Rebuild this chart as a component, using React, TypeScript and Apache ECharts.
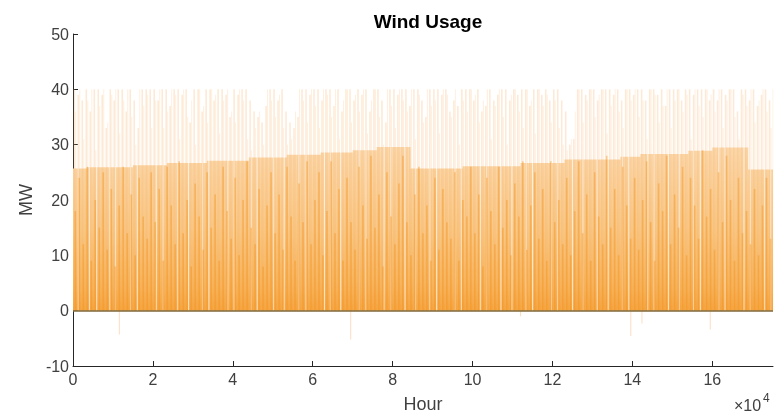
import React, { useEffect, useRef } from "react";
import * as echarts from "echarts";

// Envelope of the light band (MW) – start hour of each step and its level
const bandStarts = [0, 3500, 15000, 23500, 33500, 44000, 53500, 62000, 70000, 76000, 84500, 97500, 112000, 123000, 137000, 142000, 154000, 160000, 169000];
const bandLevels = [25.7, 25.9, 26.3, 26.7, 27.1, 27.7, 28.2, 28.6, 29.0, 29.6, 25.7, 26.1, 26.7, 27.3, 27.8, 28.3, 28.9, 29.5, 25.5];
const lastHour = 175200;

// Peak gusts per 1000-hour block (MW)
const peakMW = [
  40, 39, 38, 40, 36, 40, 40, 39, 33, 40, 38, 40, 40, 36, 40, 38, 33, 40, 40, 40,
  40, 38, 40, 40, 37, 40, 40, 39, 40, 34, 40, 40, 36, 40, 40, 38, 40, 40, 39, 35,
  40, 39, 40, 40, 38, 36, 35, 34, 37, 40, 40, 38, 40, 36, 34, 33, 35, 40, 40, 39,
  40, 40, 38, 40, 40, 37, 40, 36, 40, 40, 38, 40, 39, 40, 36, 40, 40, 38, 34, 40,
  40, 39, 40, 40, 37, 40, 40, 38, 35, 40, 40, 40, 39, 40, 36, 38, 37, 40, 40, 40,
  38, 40, 36, 37, 40, 38, 39, 40, 40, 38, 40, 39, 40, 40, 37, 40, 40, 39, 40, 38,
  40, 40, 38, 36, 30, 31, 40, 40, 39, 40, 40, 38, 40, 40, 40, 39, 40, 38, 40, 40,
  39, 40, 40, 38, 40, 40, 39, 40, 37, 40, 40, 40, 38, 40, 40, 39, 40, 40, 40, 38,
  40, 38, 40, 39, 40, 40, 36, 40, 40, 38, 40, 37, 39, 40, 38, 40,
];

// Secondary gusts per 1000-hour block, offset by half a block (MW)
const gustMW = [
  36, 40, 31, 38, 40, 29, 37, 40, 34, 39, 40, 32, 38, 40, 35, 30, 40, 37, 39, 33,
  38, 40, 33, 36, 40, 39, 31, 40, 35, 38, 30, 40, 37, 34, 40, 39, 32, 38, 40, 36,
  34, 40, 38, 31, 29, 33, 36, 30, 40, 38, 35, 39, 33, 30, 31, 36, 40, 38, 34, 40,
  37, 33, 40, 39, 35, 40, 31, 38, 40, 34, 39, 36, 40, 32, 38, 40, 35, 30, 40, 37,
  33, 40, 38, 36, 40, 31, 39, 34, 40, 37, 38, 32, 40, 39, 35, 40, 30, 38, 36, 40,
  39, 34, 38, 40, 31, 37, 40, 35, 30, 39, 40, 36, 33, 40, 38, 32, 40, 37, 39, 34,
  38, 33, 30, 29, 31, 36, 40, 34, 38, 40, 35, 39, 40, 32, 37, 40, 36, 33, 40, 38,
  40, 35, 38, 31, 40, 39, 34, 37, 40, 33, 38, 40, 36, 39, 31, 40, 37, 35, 40, 39,
  36, 40, 33, 38, 40, 35, 31, 39, 37, 40, 34, 38, 40, 36, 33, 39,
];

// Typical output per 1000-hour block (MW)
const typicalMW = [
  18, 24, 12, 26, 9, 20, 15, 25, 11, 22, 8, 19, 26, 14, 21, 10, 24, 17, 13, 25,
  16, 22, 9, 26, 19, 12, 27, 14, 20, 8, 23, 17, 11, 25, 15, 21, 9, 26, 18, 13,
  24, 10, 20, 27, 15, 12, 22, 8, 19, 25, 14, 21, 11, 26, 17, 9, 23, 16, 27, 12,
  20, 25, 10, 18, 27, 14, 22, 9, 24, 16, 11, 26, 19, 13, 28, 15, 21, 8, 25, 17,
  12, 23, 28, 16, 10, 21, 26, 14, 19, 9, 24, 11, 22, 16, 13, 25, 9, 20, 17, 26,
  14, 21, 8, 24, 18, 12, 26, 15, 20, 10, 23, 17, 27, 11, 19, 25, 13, 22, 9, 27,
  16, 20, 12, 24, 10, 18, 27, 14, 21, 9, 25, 17, 12, 28, 15, 22, 10, 26, 19, 13,
  24, 11, 20, 27, 16, 9, 23, 18, 28, 12, 21, 15, 26, 10, 24, 19, 13, 29, 17, 22,
  11, 25, 16, 28, 20, 9, 24, 14, 18, 12, 22, 10, 19, 24, 13, 20,
];

// Calm stretches (hour) where output stayed near zero
const calmHours = [
  1300, 4100, 5900, 9200, 10600, 14400, 16100, 20800, 22500, 26200, 28900, 32400,
  34000, 38700, 40300, 44600, 46100, 50200, 52800, 56500, 58300, 62900, 64400, 67000,
  71600, 73300, 77800, 79500, 83100, 85700, 89300, 91000, 95600, 97200, 101900, 103500,
  107100, 109800, 113400, 115000, 119700, 121300, 125000, 127600, 131200, 133900, 137500, 139100,
  143800, 145400, 149000, 151700, 155300, 157000, 161600, 163200, 167900, 169500, 173100, 174600,
];

// Occasional negative readings
const dipHours = [11600, 69500, 112000, 139600, 142400, 159500];
const dipMW = [-4.3, -5.2, -1.0, -4.6, -2.3, -3.4];

const xTickLabels = ["0", "2", "4", "6", "8", "10", "12", "14", "16"];

export default function App() {
  const ref = useRef<HTMLDivElement>(null);

  useEffect(() => {
    if (!ref.current) return;
    const chart = echarts.init(ref.current, undefined, { renderer: "svg" });

    const bandData: [number, number][] = bandStarts.map((h, i) => [h, bandLevels[i]]);
    bandData.push([lastHour, bandLevels[bandLevels.length - 1]]);
    const peakData = peakMW.map((v, i) => [i * 1000 + 250, v]);
    const gustData = gustMW.map((v, i) => [i * 1000 + 700, v]);
    const typicalData = typicalMW.map((v, i) => [i * 1000 + 500, v]);
    const calmData = calmHours.map((h) => [h, 31]);
    const dipData = dipHours.map((h, i) => [h, dipMW[i]]);

    const font = "Liberation Sans, Arial, Helvetica, sans-serif";
    const axisColor = "#262626";
    const labelColor = "#404040";

    chart.setOption({
      animation: false,
      title: {
        text: "Wind Usage",
        left: 423,
        textAlign: "center",
        top: 7,
        textStyle: { fontFamily: font, fontWeight: "bold", fontSize: 19, color: "#000" },
      },
      grid: { left: 73, right: 2, top: 34, bottom: 47, outerBoundsMode: "none", containLabel: false },
      xAxis: {
        type: "value",
        min: 0,
        max: lastHour,
        interval: 20000,
        name: "Hour",
        nameLocation: "middle",
        nameGap: 29,
        nameTextStyle: { fontFamily: font, fontSize: 18, color: labelColor },
        axisLine: { onZero: false, lineStyle: { color: axisColor, width: 1 } },
        axisTick: { inside: true, length: 5, lineStyle: { color: axisColor } },
        axisLabel: {
          fontFamily: font,
          fontSize: 16,
          color: labelColor,
          margin: 5,
          showMaxLabel: false,
          formatter: (v: number) => {
            const k = Math.round(v / 20000);
            return Math.abs(v - k * 20000) < 1 && xTickLabels[k] !== undefined ? xTickLabels[k] : "";
          },
        },
        splitLine: { show: false },
      },
      yAxis: {
        type: "value",
        min: -10,
        max: 50,
        interval: 10,
        name: "MW",
        nameLocation: "middle",
        nameGap: 35,
        nameTextStyle: { fontFamily: font, fontSize: 18, color: labelColor },
        axisLine: { show: true, lineStyle: { color: axisColor, width: 1 } },
        axisTick: { show: true, inside: true, length: 5, lineStyle: { color: axisColor } },
        axisLabel: { fontFamily: font, fontSize: 16, color: labelColor, margin: 4 },
        splitLine: { show: false },
      },
      graphic: [
        {
          type: "text",
          x: 734,
          y: 397,
          style: { text: "×10", font: `16px ${font}`, fill: labelColor, align: "left", verticalAlign: "top" },
        },
        {
          type: "text",
          x: 763,
          y: 392,
          style: { text: "4", font: `12px ${font}`, fill: labelColor, align: "left", verticalAlign: "top" },
        },
      ],
      series: [
        {
          name: "band",
          type: "line",
          step: "end",
          data: bandData,
          symbol: "none",
          silent: true,
          z: 1,
          lineStyle: { width: 0, opacity: 0 },
          areaStyle: {
            opacity: 1,
            color: new echarts.graphic.LinearGradient(0, 0, 0, 1, [
              { offset: 0, color: "#fbdab0" },
              { offset: 0.5, color: "#f9c886" },
              { offset: 0.85, color: "#f7b35a" },
              { offset: 1, color: "#f5a43e" },
            ]),
          },
          markLine: {
            silent: true,
            symbol: "none",
            label: { show: false },
            lineStyle: { color: "#80683a", width: 1.5, type: "solid" },
            data: [{ yAxis: 0 }],
          },
        },
        {
          name: "calm",
          type: "bar",
          data: calmData,
          barWidth: 1.2,
          barGap: "-100%",
          silent: true,
          z: 2,
          itemStyle: { color: "rgba(255, 255, 255, 0.65)" },
        },
        {
          name: "peak",
          type: "bar",
          data: peakData,
          barWidth: 1.6,
          barGap: "-100%",
          silent: true,
          z: 3,
          itemStyle: { color: "rgba(249, 175, 95, 0.26)" },
        },
        {
          name: "gust",
          type: "bar",
          data: gustData,
          barWidth: 1,
          barGap: "-100%",
          silent: true,
          z: 3,
          itemStyle: { color: "rgba(249, 175, 95, 0.2)" },
        },
        {
          name: "typical",
          type: "bar",
          data: typicalData,
          barWidth: 1.6,
          barGap: "-100%",
          silent: true,
          z: 4,
          itemStyle: { color: "rgba(242, 145, 25, 0.42)" },
        },
        {
          name: "dip",
          type: "bar",
          data: dipData,
          barWidth: 1,
          barGap: "-100%",
          silent: true,
          z: 2,
          itemStyle: { color: "rgba(249, 190, 130, 0.5)" },
        },
      ],
    });

    return () => chart.dispose();
  }, []);

  return (
    <div
      ref={ref}
      style={{ position: "fixed", left: 0, top: 0, width: 775, height: 413 }}
    />
  );
}
